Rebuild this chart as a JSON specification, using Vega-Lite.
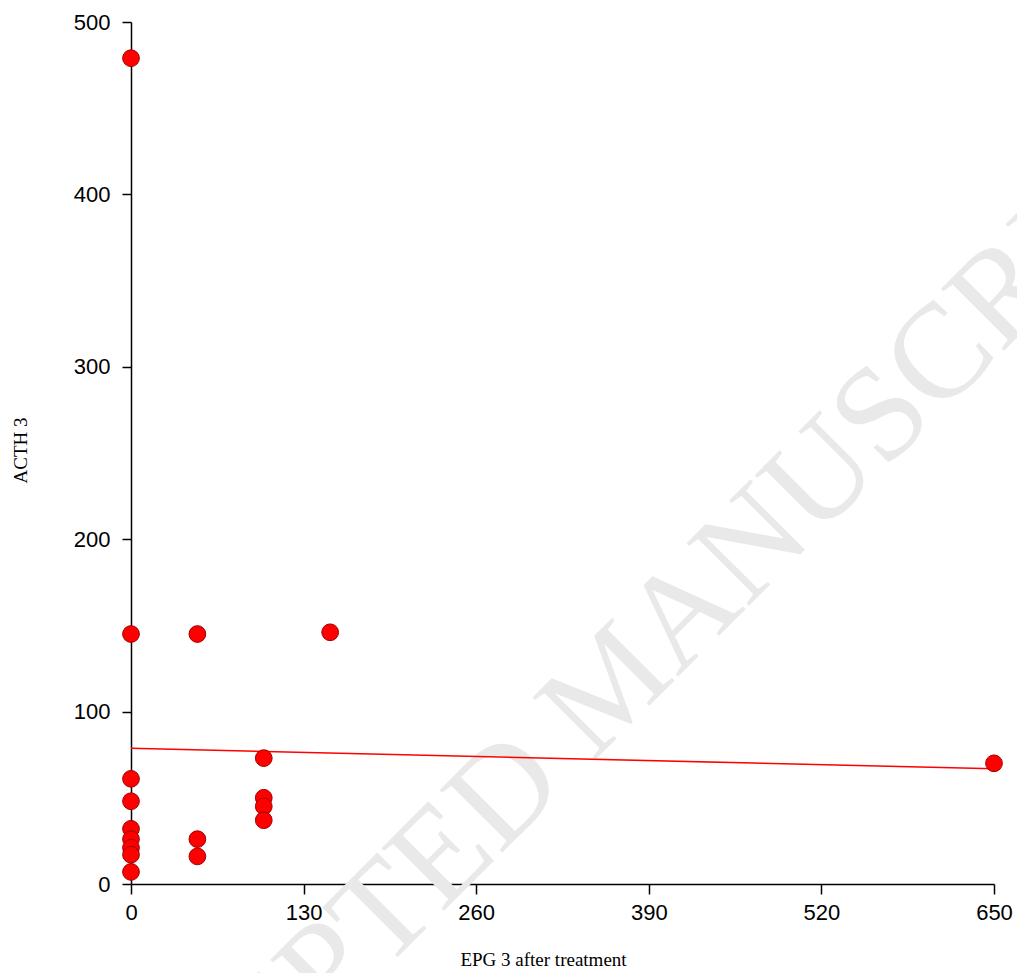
{
  "$schema": "https://vega.github.io/schema/vega-lite/v6.json",
  "autosize": {"type": "none"},
  "width": 863,
  "height": 862,
  "padding": {"left": 131, "top": 22, "right": 23, "bottom": 89},
  "background": "white",
  "config": {"view": {"stroke": null}},
  "datasets": {
    "points": [
      {"epg": 0, "acth": 479},
      {"epg": 0, "acth": 145},
      {"epg": 0, "acth": 61},
      {"epg": 0, "acth": 48},
      {"epg": 0, "acth": 32},
      {"epg": 0, "acth": 26},
      {"epg": 0, "acth": 21},
      {"epg": 0, "acth": 17},
      {"epg": 0, "acth": 7},
      {"epg": 50, "acth": 145},
      {"epg": 50, "acth": 26},
      {"epg": 50, "acth": 16},
      {"epg": 100, "acth": 73},
      {"epg": 100, "acth": 50},
      {"epg": 100, "acth": 45},
      {"epg": 100, "acth": 37},
      {"epg": 150, "acth": 146},
      {"epg": 650, "acth": 70}
    ],
    "fit": [
      {"epg": 0, "acth": 78.7},
      {"epg": 650, "acth": 66.8}
    ],
    "mark": [
      {"epg": 384.5, "acth": 99, "label": "ACCEPTED MANUSCRIPT"}
    ]
  },
  "layer": [
    {
      "data": {"name": "mark"},
      "mark": {"type": "text", "font": "Liberation Serif", "fontSize": 135, "angle": -45, "align": "center", "baseline": "alphabetic", "color": "#e9e9e9", "clip": false},
      "encoding": {
        "x": {"field": "epg", "type": "quantitative", "scale": {"domain": [0, 650], "nice": false}},
        "y": {"field": "acth", "type": "quantitative", "scale": {"domain": [0, 500], "nice": false}},
        "text": {"field": "label", "type": "nominal"}
      }
    },
    {
      "data": {"name": "fit"},
      "mark": {"type": "line", "color": "#ff0000", "strokeWidth": 1.5},
      "encoding": {
        "x": {"field": "epg", "type": "quantitative"},
        "y": {"field": "acth", "type": "quantitative"}
      }
    },
    {
      "data": {"name": "points"},
      "mark": {"type": "point", "shape": "circle", "filled": true, "fill": "#ff0000", "stroke": "#a00000", "strokeWidth": 1, "size": 280, "opacity": 1},
      "encoding": {
        "x": {
          "field": "epg", "type": "quantitative",
          "scale": {"domain": [0, 650], "nice": false},
          "axis": {
            "values": [0, 130, 260, 390, 520, 650],
            "grid": false,
            "domainColor": "black", "domainWidth": 1.5,
            "tickColor": "black", "tickWidth": 1.5, "tickSize": 10,
            "labelFont": "Liberation Sans", "labelFontSize": 22, "labelColor": "black", "labelPadding": 8,
            "labelFlush": false,
            "title": "EPG 3 after treatment",
            "titleFont": "Liberation Serif", "titleFontSize": 19, "titleFontWeight": "normal", "titleColor": "black",
            "titleX": 412, "titleY": 66, "titleAlign": "center", "titleBaseline": "top"
          }
        },
        "y": {
          "field": "acth", "type": "quantitative",
          "scale": {"domain": [0, 500], "nice": false},
          "axis": {
            "values": [0, 100, 200, 300, 400, 500],
            "grid": false,
            "domainColor": "black", "domainWidth": 1.5,
            "tickColor": "black", "tickWidth": 1.5, "tickSize": 9,
            "labelFont": "Liberation Sans", "labelFontSize": 22, "labelColor": "black", "labelPadding": 12,
            "labelFlush": false,
            "title": "ACTH 3",
            "titleFont": "Liberation Serif", "titleFontSize": 19, "titleFontWeight": "normal", "titleColor": "black",
            "titleX": -111, "titleY": 428, "titleAngle": -90, "titleAlign": "center", "titleBaseline": "middle"
          }
        }
      }
    }
  ]
}
